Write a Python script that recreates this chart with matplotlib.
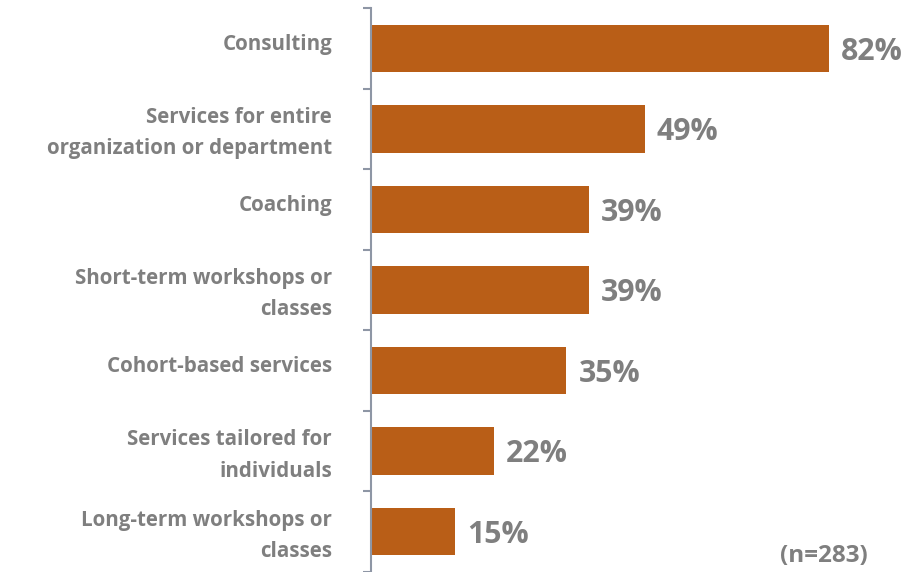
import matplotlib
matplotlib.use("Agg")
import matplotlib.pyplot as plt
import matplotlib.transforms as mtransforms
from matplotlib.ticker import FixedLocator, NullFormatter

categories = [
    "Consulting",
    "Services for entire\norganization or department",
    "Coaching",
    "Short-term workshops or\nclasses",
    "Cohort-based services",
    "Services tailored for\nindividuals",
    "Long-term workshops or\nclasses",
]
values = [82, 49, 39, 39, 35, 22, 15]
note = "(n=283)"

bar_color = "#B95E17"
text_gray = "#7F7F7F"
axis_color = "#8E96A5"

plt.rcParams["font.family"] = ["Open Sans", "DejaVu Sans"]

fig = plt.figure(figsize=(9.21, 5.72), dpi=100)
ax = fig.add_axes([371 / 921, 0, 1 - 371 / 921, 1 - 8 / 572])

pos = list(range(len(categories)))
ax.barh(pos, values, height=0.59, color=bar_color)
ax.set_ylim(len(categories) - 0.5, -0.5)
ax.set_xlim(0, 550 / 5.585)

for p, v in zip(pos, values):
    ax.text(v + 2.2, p + 0.04, f"{v}%", va="center", ha="left",
            fontsize=21.8, fontweight="bold", color=text_gray)

ax.yaxis.set_major_locator(FixedLocator(pos))
ax.set_yticklabels(categories, fontsize=14.8, fontweight="bold", color=text_gray,
                   linespacing=1.65)
ax.tick_params(axis="y", which="major", length=0, pad=28)
# labels sit a little above the bar centres
for lbl in ax.get_yticklabels():
    dy = 4.5 if "\n" not in lbl.get_text() else 2.5
    off = mtransforms.ScaledTranslation(0, dy / 72, fig.dpi_scale_trans)
    lbl.set_transform(lbl.get_transform() + off)
ax.yaxis.set_minor_locator(FixedLocator([i - 0.5 for i in range(len(categories) + 1)]))
ax.yaxis.set_minor_formatter(NullFormatter())
ax.tick_params(axis="y", which="minor", length=6, width=1.5, color=axis_color)

for s in ["top", "right", "bottom"]:
    ax.spines[s].set_visible(False)
ax.spines["left"].set_color(axis_color)
ax.spines["left"].set_linewidth(1.5)
ax.set_xticks([])

fig.text(868 / 921, 1 - 556 / 572, note, ha="right", va="center",
         fontsize=17.5, fontweight="bold", color=text_gray)

fig.savefig("out.png", dpi=100)
